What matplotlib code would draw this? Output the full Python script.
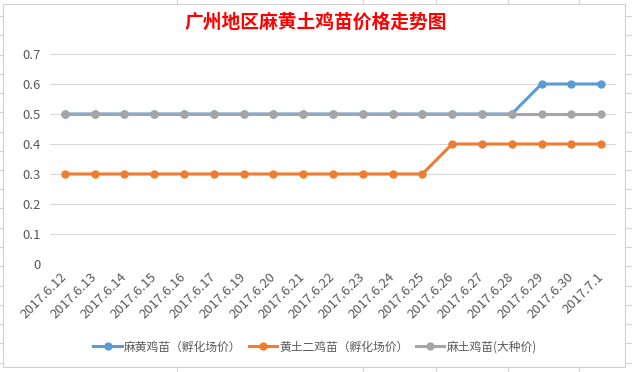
import matplotlib
matplotlib.use("Agg")
import matplotlib.pyplot as plt
from matplotlib.lines import Line2D
from matplotlib.patches import Rectangle

plt.rcParams['font.family'] = ['Noto Sans CJK SC', 'DejaVu Sans']

title = "广州地区麻黄土鸡苗价格走势图"
dates = ["2017.6.12", "2017.6.13", "2017.6.14", "2017.6.15", "2017.6.16", "2017.6.17",
         "2017.6.19", "2017.6.20", "2017.6.21", "2017.6.22", "2017.6.23", "2017.6.24",
         "2017.6.25", "2017.6.26", "2017.6.27", "2017.6.28", "2017.6.29", "2017.6.30",
         "2017.7.1"]
series_names = ["麻黄鸡苗（孵化场价）", "黄土二鸡苗（孵化场价）", "麻土鸡苗(大种价)"]
mahuang = [0.5, 0.5, 0.5, 0.5, 0.5, 0.5, 0.5, 0.5, 0.5, 0.5, 0.5, 0.5, 0.5, 0.5, 0.5, 0.5, 0.6, 0.6, 0.6]
huangtu = [0.3, 0.3, 0.3, 0.3, 0.3, 0.3, 0.3, 0.3, 0.3, 0.3, 0.3, 0.3, 0.3, 0.4, 0.4, 0.4, 0.4, 0.4, 0.4]
matu = [0.5] * 19
yticks = [0, 0.1, 0.2, 0.3, 0.4, 0.5, 0.6, 0.7]
colors = ["#5B9BD5", "#ED7D31", "#A5A5A5"]

W, H = 632, 372
fig = plt.figure(figsize=(W / 100, H / 100), dpi=100)

def fx(x):
    return x / W

def fy(y):
    return 1 - y / H

# spreadsheet cell lines outside the chart
grid_c = "#D4D4D4"
for k in range(20):
    y = 16 + 19.25 * k
    if y > H:
        break
    fig.add_artist(Line2D([0, fx(3)], [fy(y), fy(y)], color=grid_c, lw=0.8, transform=fig.transFigure))
    fig.add_artist(Line2D([fx(625), 1], [fy(y), fy(y)], color=grid_c, lw=0.8, transform=fig.transFigure))
for x in [177, 363, 436, 508, 579]:
    fig.add_artist(Line2D([fx(x), fx(x)], [1, fy(4)], color=grid_c, lw=0.8, transform=fig.transFigure))
    fig.add_artist(Line2D([fx(x), fx(x)], [fy(367), 0], color=grid_c, lw=0.8, transform=fig.transFigure))
# chart border
fig.add_artist(Rectangle((fx(3), fy(367)), fx(625) - fx(3), fy(4) - fy(367), fill=False,
                         edgecolor="#D0D0D0", lw=0.8, transform=fig.transFigure))

ax = fig.add_axes([fx(50), fy(264), fx(616) - fx(50), fy(54) - fy(264)])
x = list(range(len(dates)))
ax.plot(x, mahuang, color=colors[0], lw=2.2, marker='o', ms=5, label=series_names[0], zorder=3)
ax.plot(x, huangtu, color=colors[1], lw=2.2, marker='o', ms=5, label=series_names[1], zorder=3)
ax.plot(x, matu, color=colors[2], lw=2.2, marker='o', ms=5, label=series_names[2], zorder=4)

ax.set_xlim(-0.5, len(dates) - 0.5)
ax.set_ylim(0, 0.7)
ax.set_yticks(yticks)
ax.set_yticklabels([f"{v:g}" for v in yticks])
ax.set_xticks(x)
ax.set_xticklabels(dates, rotation=45, ha='right', va='center', rotation_mode='anchor')
ax.grid(axis='y', color="#D9D9D9", lw=0.8)
ax.set_axisbelow(True)
for s in ax.spines.values():
    s.set_visible(False)
ax.tick_params(axis='both', length=0, labelsize=9.5, colors="#595959")
ax.tick_params(axis='y', pad=7)
ax.tick_params(axis='x', pad=8)
for lab in ax.get_xticklabels():
    lab.set_x(lab.get_position()[0])

fig.text(fx(316), fy(22), title, ha='center', va='center', color="#FF0000",
         fontsize=13.5, fontweight='bold')

fig.legend(loc='center', bbox_to_anchor=(fx(315), fy(347)), ncol=3, frameon=False,
           fontsize=8.5, handlelength=2.4, handletextpad=0.2, columnspacing=0.6,
           labelcolor="#595959")

fig.savefig("out.png", dpi=100)
